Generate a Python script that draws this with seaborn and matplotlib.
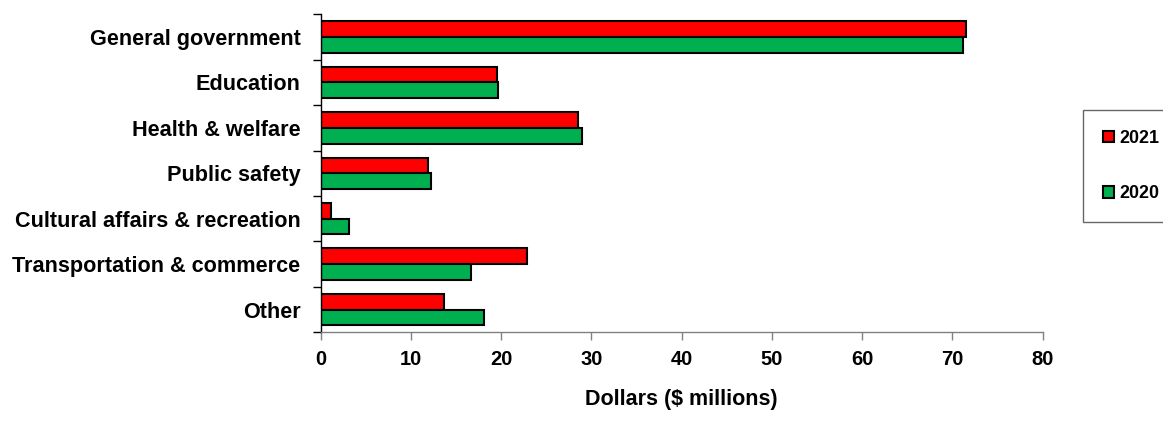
import matplotlib
matplotlib.use("Agg")
import matplotlib.pyplot as plt
from matplotlib.patches import Patch
import numpy as np
import pandas as pd
import seaborn as sns

categories = [
    "General government",
    "Education",
    "Health & welfare",
    "Public safety",
    "Cultural affairs & recreation",
    "Transportation & commerce",
    "Other",
]
values_2021 = [71.5, 19.5, 28.5, 11.9, 1.2, 22.9, 13.7]
values_2020 = [71.2, 19.7, 29.0, 12.2, 3.1, 16.7, 18.1]
years = ["2021", "2020"]
colors = {"2021": "#FF0000", "2020": "#00B050"}
x_ticks = [0, 10, 20, 30, 40, 50, 60, 70, 80]

df = pd.DataFrame({
    "category": categories * 2,
    "year": ["2021"] * len(categories) + ["2020"] * len(categories),
    "value": values_2021 + values_2020,
})

sns.set_style("white")
plt.rcParams["font.family"] = ["Liberation Sans", "DejaVu Sans"]
plt.rcParams["font.weight"] = "bold"
plt.rcParams["text.color"] = "black"
plt.rcParams["axes.labelcolor"] = "black"
plt.rcParams["xtick.labelcolor"] = "black"
plt.rcParams["ytick.labelcolor"] = "black"

fig = plt.figure(figsize=(11.63, 4.33), dpi=100)
ax = fig.add_axes([0.2756, 0.2326, 0.6209, 0.7344])

sns.barplot(
    data=df, y="category", x="value", hue="year",
    order=categories, hue_order=years, palette=colors,
    orient="h", width=0.69, saturation=1,
    edgecolor="black", linewidth=1.5, legend=False, ax=ax,
)

ax.set_xlim(0, 80)
ax.set_xticks(x_ticks)
ax.set_xticklabels([str(t) for t in x_ticks], fontsize=14.5, fontweight="bold",
                   color="black")
ax.tick_params(axis="x", direction="out", length=6, width=1, color="#808080",
               pad=7, labelcolor="black", bottom=True)

n = len(categories)
ax.set_ylim(n - 0.5, -0.5)
ax.set_yticks(np.arange(-0.5, n, 1.0))
ax.set_yticklabels([])
ax.set_yticks(np.arange(n), minor=True)
ax.set_yticklabels(categories, minor=True, fontsize=15.6, fontweight="bold",
                   color="black")
ax.tick_params(axis="y", which="major", direction="out", length=6, width=1,
               color="black", left=True)
ax.tick_params(axis="y", which="minor", length=0, pad=14.5)

for side in ("top", "right"):
    ax.spines[side].set_visible(False)
ax.spines["left"].set_color("black")
ax.spines["left"].set_linewidth(1)
ax.spines["bottom"].set_color("#808080")
ax.spines["bottom"].set_linewidth(1)

ax.set_ylabel("")
ax.set_xlabel("Dollars ($ millions)", fontsize=15.5, fontweight="bold",
              labelpad=14.5, color="black")

handles = [Patch(facecolor=colors[y], edgecolor="black", linewidth=1.5, label=y)
           for y in years]
leg = fig.legend(
    handles=handles, loc="upper left",
    bbox_to_anchor=(0.9315, 0.746), frameon=True, fancybox=False,
    prop={"size": 12.9, "weight": "bold"},
    handlelength=0.6, handleheight=0.6, handletextpad=0.3,
    labelspacing=2.15, borderpad=1.1, borderaxespad=0,
)
for txt in leg.get_texts():
    txt.set_color("black")
leg.get_frame().set_edgecolor("#404040")
leg.get_frame().set_linewidth(1)

fig.savefig("out.png", dpi=100)
